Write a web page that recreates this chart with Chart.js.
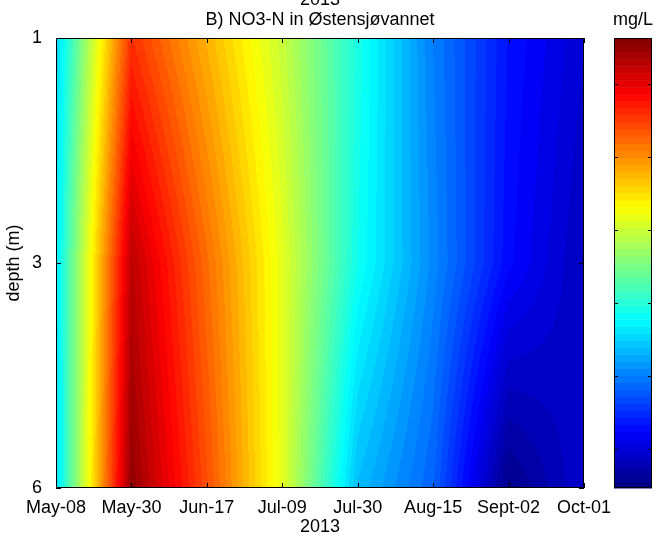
<!DOCTYPE html>
<html>
<head>
<meta charset="utf-8">
<script src="https://cdn.jsdelivr.net/npm/chart.js@4"></script>
<style>
  body { margin: 0; background: #fff; }
  #wrap { width: 658px; height: 534px; }
</style>
</head>
<body>
<div id="wrap"><canvas id="no3" width="658" height="534"></canvas></div>
<script>
// sampling dates (evenly spaced on the plot) and depths
const dates = ['May-08', 'May-30', 'Jun-17', 'Jul-09', 'Jul-30', 'Aug-15', 'Sept-02', 'Oct-01'];
const depths = ['1', '3', '6'];
// NO3-N, mg/L
const no3At1m = [0.250, 0.558, 0.478, 0.398, 0.293, 0.200, 0.132, 0.095];
const no3At3m = [0.262, 0.626, 0.521, 0.416, 0.287, 0.206, 0.126, 0.083];
const no3At6m = [0.256, 0.651, 0.540, 0.416, 0.237, 0.182, 0.052, 0.095];
const cbarMin = 0.046;
const cbarMax = 0.663;
const cbarTicks = [0.1, 0.2, 0.3, 0.4, 0.5, 0.6];
const nLevels = 64;

const grid = [no3At1m, no3At3m, no3At6m];

function jet(t) {
  const c = v => Math.max(0, Math.min(1, v));
  return [c(1.5 - Math.abs(4 * t - 3)) * 255, c(1.5 - Math.abs(4 * t - 2)) * 255, c(1.5 - Math.abs(4 * t - 1)) * 255];
}
function levelColor(v) {
  let k = Math.floor((v - cbarMin) / (cbarMax - cbarMin) * nLevels);
  k = Math.max(0, Math.min(nLevels - 1, k));
  return jet((k + 0.5) / nLevels);
}
function valueAt(xv, yv) {
  const i = Math.max(0, Math.min(dates.length - 2, Math.floor(xv)));
  const j = Math.max(0, Math.min(depths.length - 2, Math.floor(yv)));
  const fx = xv - i, fy = yv - j;
  const a = grid[j][i], b = grid[j][i + 1], c = grid[j + 1][i], d = grid[j + 1][i + 1];
  return (a * (1 - fx) + b * fx) * (1 - fy) + (c * (1 - fx) + d * fx) * fy;
}

const FONT = 'Liberation Sans, Arial, sans-serif';

const heatmap = {
  id: 'heatmap',
  beforeDatasetsDraw(chart) {
    const { ctx, chartArea: a, scales: { x, y } } = chart;
    const left = Math.round(a.left), top = Math.round(a.top);
    const w = Math.round(a.right) - left, h = Math.round(a.bottom) - top;
    const img = ctx.createImageData(w, h);
    for (let j = 0; j < h; j++) {
      const yv = y.getValueForPixel(top + j + 0.5);
      for (let i = 0; i < w; i++) {
        const xv = x.getValueForPixel(left + i + 0.5);
        const col = levelColor(valueAt(xv, yv));
        const p = (j * w + i) * 4;
        img.data[p] = col[0]; img.data[p + 1] = col[1]; img.data[p + 2] = col[2]; img.data[p + 3] = 255;
      }
    }
    ctx.putImageData(img, left, top);
  },
  afterDraw(chart) {
    const { ctx, chartArea: a, scales: { x, y } } = chart;
    ctx.save();
    ctx.strokeStyle = '#000';
    ctx.lineWidth = 1;
    ctx.strokeRect(a.left + 0.5, a.top + 0.5, a.right - a.left - 1, a.bottom - a.top - 1);
    ctx.beginPath();
    dates.forEach((d, i) => {
      const px = Math.round(x.getPixelForValue(i)) + 0.5;
      ctx.moveTo(px, a.bottom); ctx.lineTo(px, a.bottom - 5);
      ctx.moveTo(px, a.top); ctx.lineTo(px, a.top + 5);
    });
    depths.forEach((d, j) => {
      const py = Math.round(y.getPixelForValue(j)) + 0.5;
      ctx.moveTo(a.left, py); ctx.lineTo(a.left + 5, py);
      ctx.moveTo(a.right, py); ctx.lineTo(a.right - 5, py);
    });
    ctx.stroke();

    // colour bar
    const cbL = 614, cbR = 652, cbT = a.top, cbB = a.bottom;
    const bandH = (cbB - cbT) / nLevels;
    for (let k = 0; k < nLevels; k++) {
      const c = jet((k + 0.5) / nLevels);
      ctx.fillStyle = `rgb(${c[0]},${c[1]},${c[2]})`;
      ctx.fillRect(cbL, cbB - (k + 1) * bandH, cbR - cbL, bandH + 0.5);
    }
    ctx.strokeRect(cbL + 0.5, cbT + 0.5, cbR - cbL - 1, cbB - cbT - 1);
    ctx.beginPath();
    cbarTicks.forEach(t => {
      const py = Math.round(cbB - (t - cbarMin) / (cbarMax - cbarMin) * (cbB - cbT)) + 0.5;
      ctx.moveTo(cbL, py); ctx.lineTo(cbL + 4, py);
      ctx.moveTo(cbR, py); ctx.lineTo(cbR - 4, py);
    });
    ctx.stroke();

    // texts
    ctx.fillStyle = '#000';
    ctx.font = '18px ' + FONT;
    ctx.textAlign = 'center';
    ctx.textBaseline = 'alphabetic';
    const cx = (a.left + a.right) / 2;
    ctx.fillText('2013', cx, 5);
    ctx.fillText('B) NO3-N in Østensjøvannet', cx, 25);
    ctx.fillText('mg/L', (cbL + cbR) / 2, 25);
    ctx.fillText('2013', cx, 532);
    ctx.translate(19, (a.top + a.bottom) / 2);
    ctx.rotate(-Math.PI / 2);
    ctx.fillText('depth (m)', 0, 0);
    ctx.restore();
  }
};

const points = [];
grid.forEach((row, j) => row.forEach((v, i) => points.push({ x: i, y: j, v })));

Chart.defaults.color = '#000';
Chart.defaults.font.family = FONT;
Chart.defaults.font.size = 18;

new Chart(document.getElementById('no3'), {
  type: 'scatter',
  data: {
    datasets: [{
      label: 'NO3-N',
      data: points,
      pointRadius: 0,
      pointHoverRadius: 0
    }]
  },
  options: {
    responsive: false,
    animation: false,
    layout: { padding: { top: 38, right: 74, bottom: 0, left: 0 } },
    plugins: { legend: { display: false }, tooltip: { enabled: false } },
    scales: {
      x: {
        type: 'linear',
        min: 0,
        max: dates.length - 1,
        grid: { display: false },
        border: { display: false },
        afterFit: s => { s.height = 46; },
        ticks: {
          stepSize: 1,
          autoSkip: false,
          maxRotation: 0,
          padding: 1,
          callback: v => dates[v]
        }
      },
      y: {
        type: 'linear',
        reverse: true,
        min: 0,
        max: depths.length - 1,
        grid: { display: false },
        border: { display: false },
        afterFit: s => { s.width = 56; },
        ticks: {
          stepSize: 1,
          padding: 6,
          callback: v => depths[v]
        }
      }
    }
  },
  plugins: [heatmap]
});
</script>
</body>
</html>
